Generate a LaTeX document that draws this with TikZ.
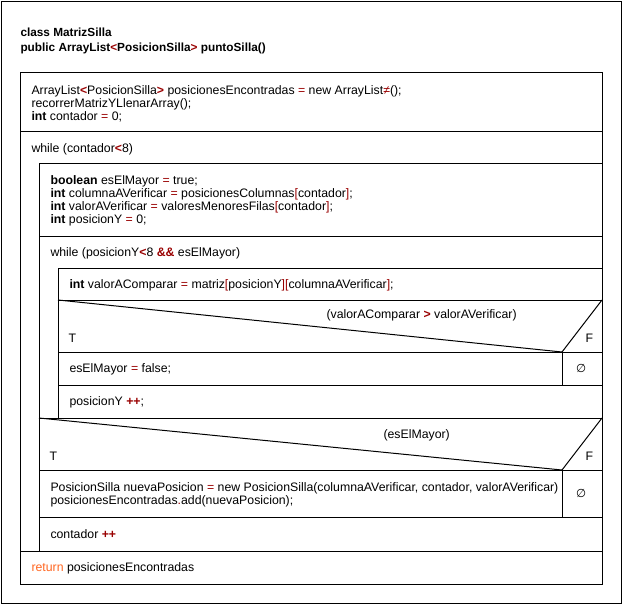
\documentclass[tikz,border=0pt]{standalone}
\usepackage{fontspec}
\setmainfont{Liberation Sans}
\newfontfamily\simbolo{DejaVu Sans}

\definecolor{operador}{rgb}{0.6,0,0}
\definecolor{retorno}{rgb}{1,0.4,0.13}
\newcommand{\op}[1]{\textcolor{operador}{#1}}
\newcommand{\opb}[1]{\textcolor{operador}{\textbf{#1}}}

\tikzset{
    texto/.style={anchor=base west, inner sep=0pt, font=\fontsize{12.3}{13}\selectfont},
    titulo/.style={anchor=base west, inner sep=0pt, font=\fontsize{11.8}{13}\selectfont\bfseries},
    vacio/.style={inner sep=0pt, font=\fontsize{11.5}{13}\selectfont\simbolo}
}

\begin{document}
\begin{tikzpicture}[x=1pt, y=-1pt, line width=1pt]
        \useasboundingbox (0,0) rectangle (623,605);
        \draw (1,1) rectangle (621,603);

        \node[titulo] (clase) at (20,36) {class MatrizSilla};
        \node[titulo] (metodo) at (20,51) {public ArrayList\op{<}PosicionSilla\op{>} puntoSilla()};

        \draw (20,72) rectangle (602,584);
        \draw (20,131) -- (602,131);
        \draw (39,163) -- (602,163);
        \draw (39,163) -- (39,551);
        \draw (39,236) -- (602,236);
        \draw (58,268) -- (602,268);
        \draw (58,268) -- (58,418);
        \draw (58,300) -- (602,300);
        \draw (58,300) -- (562,352) -- (602,300);
        \draw (58,352) -- (602,352);
        \draw (562,352) -- (562,385);
        \draw (58,385) -- (602,385);
        \draw (39,418) -- (602,418);
        \draw (39,418) -- (562,470) -- (602,418);
        \draw (39,470) -- (602,470);
        \draw (562,470) -- (562,517);
        \draw (39,517) -- (602,517);
        \draw (20,551) -- (602,551);

        \node[texto] (init1) at (31,94) {ArrayList\opb{<}PosicionSilla\opb{>} posicionesEncontradas \op{=} new ArrayList\op{≠}();};
        \node[texto] (init2) at (31,107) {recorrerMatrizYLlenarArray();};
        \node[texto] (init3) at (31,120) {\textbf{int} contador \op{=} 0;};
        \node[texto] (mientras1) at (31,152) {while (contador\opb{<}8)};

        \node[texto] (decl1) at (50,184) {\textbf{boolean} esElMayor \op{=} true;};
        \node[texto] (decl2) at (50,197) {\textbf{int} columnaAVerificar \op{=} posicionesColumnas\op{[}contador\op{]};};
        \node[texto] (decl3) at (50,210) {\textbf{int} valorAVerificar \op{=} valoresMenoresFilas\op{[}contador\op{]};};
        \node[texto] (decl4) at (50,223) {\textbf{int} posicionY \op{=} 0;};
        \node[texto] (mientras2) at (50,256) {while (posicionY\opb{<}8 \opb{\&\&} esElMayor)};

        \node[texto] (comparar) at (69,288) {\textbf{int} valorAComparar \op{=} matriz\op{[}posicionY\op{][}columnaAVerificar\op{]};};
        \node[texto] (cond1) at (326,318) {(valorAComparar \opb{>} valorAVerificar)};
        \node[texto] (verdad1) at (68,342) {T};
        \node[texto] (falso1) at (585,342) {F};
        \node[texto] (asigna) at (69,372.5) {esElMayor \op{=} false;};
        \node[vacio] (vacio1) at (581,368.5) {∅};
        \node[texto] (incremento) at (69,405.5) {posicionY \opb{++};};

        \node[texto] (cond2) at (383,438) {(esElMayor)};
        \node[texto] (verdad2) at (49,460) {T};
        \node[texto] (falso2) at (585,460) {F};
        \begin{scope}
            \clip (39,470) rectangle (561.5,517);
            \node[texto] (nueva) at (50,491) {PosicionSilla nuevaPosicion \op{=} new PosicionSilla(columnaAVerificar, contador, valorAVerificar)};
        \end{scope}
        \node[texto] (agregar) at (50,504) {posicionesEncontradas\op{.}add(nuevaPosicion);};
        \node[vacio] (vacio2) at (581,493.5) {∅};
        \node[texto] (contador) at (50,538) {contador \opb{++}};

        \node[texto] (retorno) at (31,571.5) {\textcolor{retorno}{return} posicionesEncontradas};
\end{tikzpicture}
\end{document}
